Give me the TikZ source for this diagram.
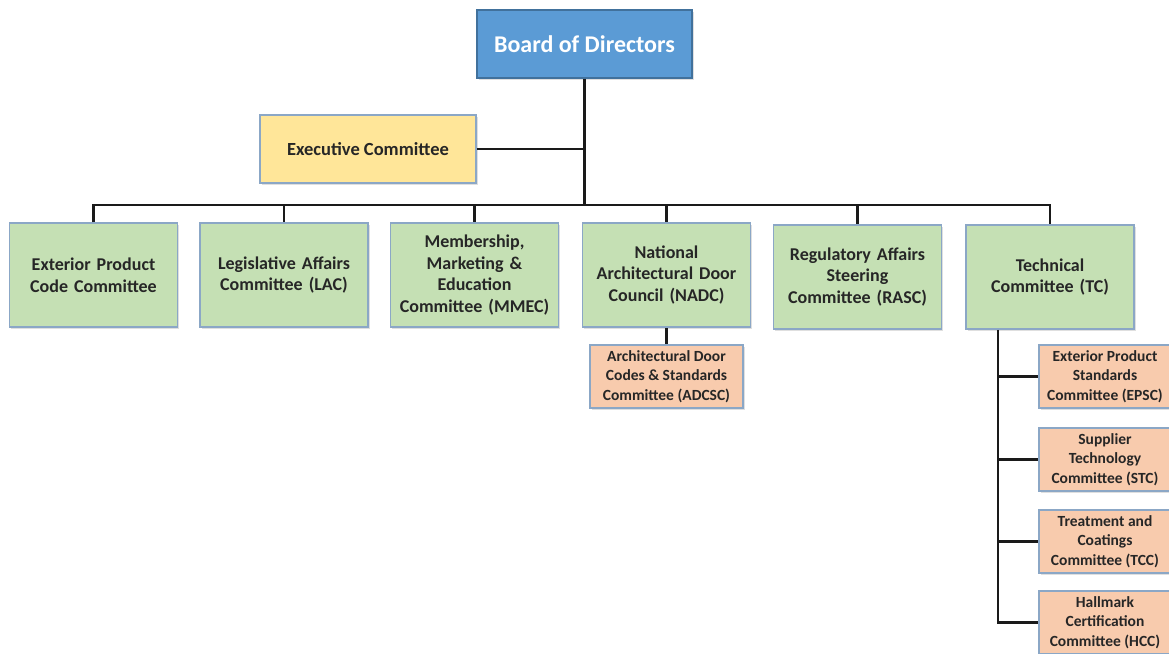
\documentclass[tikz,border=0pt]{standalone}
\usepackage{fontspec}
\setmainfont{Carlito}
\usepackage{tikz}
\usetikzlibrary{shadows}

\definecolor{boardblue}{HTML}{5B9BD5}
\definecolor{boardedge}{HTML}{41719C}
\definecolor{execyellow}{HTML}{FFE699}
\definecolor{cttegreen}{HTML}{C5E0B4}
\definecolor{subsalmon}{HTML}{F8CBAD}
\definecolor{boxedge}{HTML}{8BA7C6}
\definecolor{wire}{HTML}{1A1A1A}

\begin{document}
\begin{tikzpicture}[x=1pt, y=-1pt,
    box/.style={draw=boxedge, line width=1.5pt, align=center, inner sep=2pt,
        text=black!85, font=\bfseries,
        drop shadow={shadow xshift=1.5pt, shadow yshift=-1.5pt, opacity=0.25}},
    board/.style={box, fill=boardblue, draw=boardedge, text=white,
        minimum width=215pt, minimum height=68pt, font=\fontsize{24}{28}\selectfont\bfseries},
    exec/.style={box, fill=execyellow, minimum width=216pt, minimum height=68pt,
        font=\fontsize{18.5}{22}\selectfont\bfseries},
    ctte/.style={box, fill=cttegreen, minimum width=168pt, minimum height=104pt,
        text width=162pt, font=\fontsize{18}{21.5}\selectfont\bfseries},
    sub/.style={box, fill=subsalmon, minimum height=63pt,
        font=\fontsize{15.5}{19.5}\selectfont\bfseries},
    link/.style={draw=wire, line width=2.5pt}]
    \useasboundingbox (0,0) rectangle (1169,653);
    % top of the chart.
    \node[board] (board) at (584.5, 44) {Board of Directors};
    \node[exec] (exec) at (368, 149) {Executive Committee};
    % committee row.
    \node[ctte] (epcc) at (93.5, 275) {Exterior Product\\Code Committee};
    \node[ctte] (lac) at (284, 275) {Legislative Affairs\\Committee (LAC)};
    \node[ctte] (mmec) at (474.5, 275) {Membership,\\Marketing \&\\Education\\Committee (MMEC)};
    \node[ctte] (nadc) at (666.5, 275) {National\\Architectural Door\\Council (NADC)};
    \node[ctte] (rasc) at (857.5, 277) {Regulatory Affairs\\Steering\\Committee (RASC)};
    \node[ctte] (tech) at (1050, 277) {Technical\\Committee (TC)};
    % sub-committees.
    \node[sub, minimum width=153pt] (adcsc) at (666.5, 376.5) {Architectural Door\\Codes \& Standards\\Committee (ADCSC)};
    \node[sub, minimum width=132pt] (epsc) at (1105, 376.5) {Exterior Product\\Standards\\Committee (EPSC)};
    \node[sub, minimum width=132pt] (stc) at (1105, 459.5) {Supplier\\Technology\\Committee (STC)};
    \node[sub, minimum width=132pt] (tcc) at (1105, 541.5) {Treatment and\\Coatings\\Committee (TCC)};
    \node[sub, minimum width=132pt] (hcc) at (1105, 622.5) {Hallmark\\Certification\\Committee (HCC)};
    % trunk and bus.
    \coordinate (bus) at (585, 205);
    \coordinate (spine) at (998, 0);
    \draw[link] (board.south) -- (board.south |- bus);
    \draw[link] (exec.east) -- (exec.east -| board.south);
    \draw[link] (epcc.north) -- (epcc.north |- bus) -- (tech.north |- bus) -- (tech.north);
    \foreach \c in {lac, mmec, nadc, rasc}
        \draw[link] (\c.north |- bus) -- (\c.north);
    % NADC branch.
    \draw[link] (nadc.south) -- (adcsc.north);
    % TC branch.
    \draw[link] (spine |- tech.south) -- (spine |- hcc.west) -- (hcc.west);
    \foreach \c in {epsc, stc, tcc}
        \draw[link] (spine |- \c.west) -- (\c.west);
\end{tikzpicture}
\end{document}
